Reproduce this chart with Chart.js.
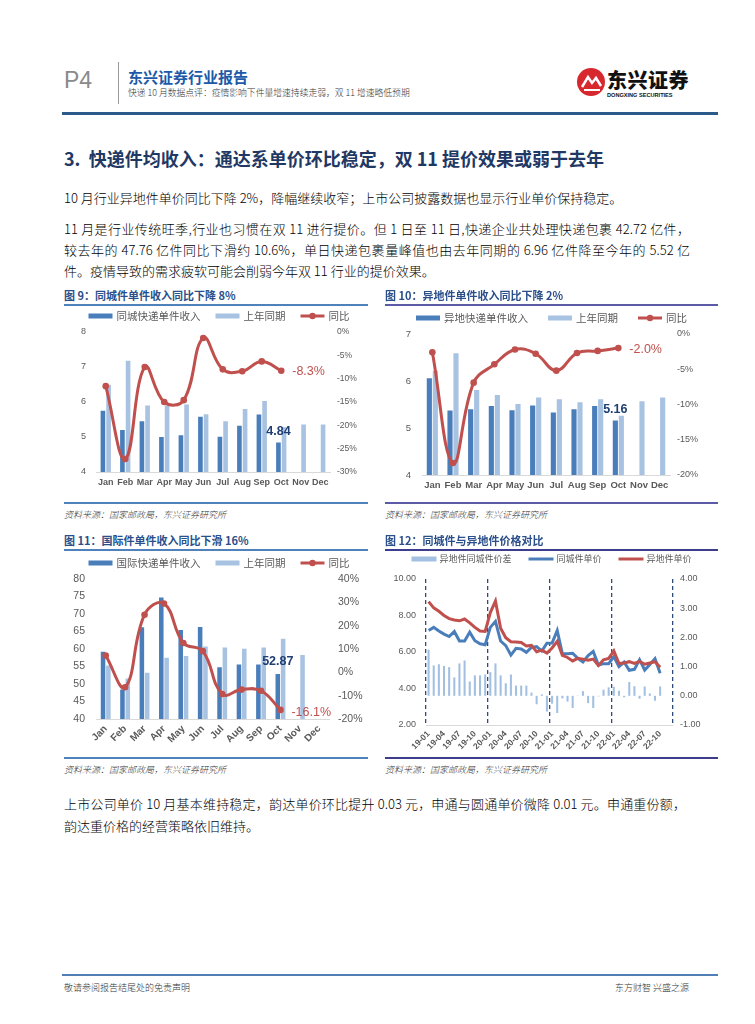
<!DOCTYPE html>
<html><head><meta charset="utf-8">
<script src="https://cdn.jsdelivr.net/npm/chart.js@4/dist/chart.umd.min.js"></script>
<style>
body{margin:0;background:#fff;}
#page{position:relative;width:755px;height:1024px;overflow:hidden;font-family:"Noto Sans CJK SC",sans-serif;color:#111;background:#fff;}
.a{position:absolute;white-space:nowrap;z-index:2;}
.ln{position:absolute;z-index:2;}
canvas{position:absolute;z-index:1;}
.p{font-size:13px;line-height:21px;height:21px;font-weight:300;color:#000;}
.j{width:626px;text-align:justify;text-align-last:justify;}
.ft{font-size:11px;font-weight:bold;color:#2a4f8a;line-height:14px;}
.src{font-size:9px;font-style:italic;color:#333;line-height:12px;font-weight:300;}
</style></head><body><div id="page">

<div class="a" style="left:64px;top:68px;font-family:'Liberation Sans';font-size:23px;line-height:24px;color:#8a8a8a;">P4</div>
<div class="ln" style="left:118px;top:62px;width:1px;height:42px;background:#9a9a9a;"></div>
<div class="a" style="left:128px;top:68px;font-size:15px;line-height:18px;font-weight:bold;color:#1c5aa8;">东兴证券行业报告</div>
<div class="a" style="left:128px;top:87px;font-size:8.8px;line-height:12px;color:#333;font-weight:300;">快递 10 月数据点评：疫情影响下件量增速持续走弱，双 11 增速略低预期</div>
<svg class="ln" style="left:576px;top:66px;" width="32" height="32" viewBox="0 0 32 32"><circle cx="15" cy="16" r="14" fill="#d7282f"/><path d="M6 21 L12 11 L16 17 L20 12 L25 20" stroke="#fff" stroke-width="2.5" fill="none"/><path d="M8 24 L24 24" stroke="#fff" stroke-width="2"/></svg>
<div class="a" style="left:607px;top:68px;font-size:20px;line-height:24px;font-weight:900;color:#111;letter-spacing:0.5px;">东兴证券</div>
<div class="a" style="left:607px;top:91px;font-family:'Liberation Sans';font-size:5.6px;line-height:8px;font-weight:bold;color:#111;">DONGXING SECURITIES</div>
<div class="ln" style="left:62px;top:112px;width:656px;height:3px;background:#2c5a8c;"></div>

<div class="a" style="left:64px;top:146px;font-size:18px;line-height:24px;font-weight:bold;color:#1f3864;">3.&nbsp;&nbsp;快递件均收入：通达系单价环比稳定，双 11 提价效果或弱于去年</div>
<div class="a p" style="left:64px;top:187px;">10 月行业异地件单价同比下降 2%，降幅继续收窄；上市公司披露数据也显示行业单价保持稳定。</div>
<div class="a p j" style="left:64px;top:218px;">11 月是行业传统旺季,行业也习惯在双 11 进行提价。但 1 日至 11 日,快递企业共处理快递包裹 42.72 亿件，</div>
<div class="a p j" style="left:64px;top:239px;">较去年的 47.76 亿件同比下滑约 10.6%，单日快递包裹量峰值也由去年同期的 6.96 亿件降至今年的 5.52 亿</div>
<div class="a p" style="left:64px;top:260px;">件。疫情导致的需求疲软可能会削弱今年双 11 行业的提价效果。</div>

<div class="a ft" style="left:64px;top:288px;">图 9：同城件单件收入同比下降 8%</div>
<div class="ln" style="left:64px;top:304px;width:304px;height:2px;background:#4f81bd;"></div>
<div class="ln" style="left:64px;top:502px;width:304px;height:2px;background:#4f81bd;"></div>
<div class="a src" style="left:64px;top:509px;">资料来源：国家邮政局，东兴证券研究所</div>

<div class="a ft" style="left:385px;top:288px;">图 10：异地件单件收入同比下降 2%</div>
<div class="ln" style="left:385px;top:304px;width:333px;height:2px;background:#5b5ba8;"></div>
<div class="ln" style="left:385px;top:502px;width:333px;height:2px;background:#5b5ba8;"></div>
<div class="a src" style="left:385px;top:509px;">资料来源：国家邮政局，东兴证券研究所</div>

<div class="a ft" style="left:64px;top:533px;">图 11：国际件单件收入同比下滑 16%</div>
<div class="ln" style="left:64px;top:549px;width:304px;height:2px;background:#4f81bd;"></div>
<div class="ln" style="left:64px;top:757px;width:304px;height:2px;background:#4f81bd;"></div>
<div class="a src" style="left:64px;top:764px;">资料来源：国家邮政局，东兴证券研究所</div>

<div class="a ft" style="left:385px;top:533px;">图 12：同城件与异地件价格对比</div>
<div class="ln" style="left:385px;top:549px;width:333px;height:2px;background:#3d3d8f;"></div>
<div class="ln" style="left:385px;top:757px;width:333px;height:2px;background:#3d3d8f;"></div>
<div class="a src" style="left:385px;top:764px;">资料来源：国家邮政局，东兴证券研究所</div>

<div class="a p j" style="left:64px;top:793px;width:622px;">上市公司单价 10 月基本维持稳定，韵达单价环比提升 0.03 元，申通与圆通单价微降 0.01 元。申通重份额，</div>
<div class="a p" style="left:64px;top:815px;">韵达重价格的经营策略依旧维持。</div>

<div class="ln" style="left:62px;top:974px;width:656px;height:2px;background:#4f7fb5;"></div>
<div class="a" style="left:64px;top:982px;font-size:9px;line-height:12px;color:#333;font-weight:300;">敬请参阅报告结尾处的免责声明</div>
<div class="a" style="left:615px;top:982px;font-size:9px;line-height:12px;color:#333;font-weight:300;">东方财智 兴盛之源</div>

<canvas id="c9" width="304" height="195" style="left:64px;top:305px;"></canvas>
<canvas id="c10" width="333" height="195" style="left:385px;top:305px;"></canvas>
<canvas id="c11" width="304" height="206" style="left:64px;top:550px;"></canvas>
<canvas id="c12" width="333" height="206" style="left:385px;top:550px;"></canvas>
</div>
<script>
// ---------- data ----------
const months = ['Jan','Feb','Mar','Apr','May','Jun','Jul','Aug','Sep','Oct','Nov','Dec'];

const cityCur  = [5.75, 5.20, 5.45, 5.00, 5.05, 5.58, 5.01, 5.32, 5.64, 4.84];
const cityPrev = [6.49, 7.18, 5.90, 5.90, 5.93, 5.65, 5.45, 5.80, 6.03, 5.28, 5.36, 5.36];
const cityYoy  = [-11.6, -27.2, -7.5, -15.0, -14.6, -1.3, -8.0, -8.4, -6.3, -8.3];

const interCur  = [6.06, 5.37, 5.40, 5.47, 5.38, 5.48, 5.33, 5.40, 5.47, 5.16];
const interPrev = [6.22, 6.59, 5.81, 5.70, 5.51, 5.65, 5.61, 5.55, 5.61, 5.26, 5.57, 5.65];
const interYoy  = [-2.6, -18.3, -6.9, -4.3, -2.2, -2.8, -5.2, -2.7, -2.4, -2.0];

const intlCur  = [59.2, 48.4, 66.2, 74.7, 65.4, 66.3, 54.8, 55.6, 55.6, 52.87];
const intlPrev = [55.3, 51.6, 53.2, 57.5, 58.0, 60.7, 60.4, 60.1, 60.4, 62.9, 58.3, null];
const intlYoy  = [7.2, -6.4, 24.7, 29.5, 12.6, 9.1, -9.3, -7.4, -7.9, -16.1];

const priceMonths = ['19-01','19-02','19-03','19-04','19-05','19-06','19-07','19-08','19-09','19-10','19-11','19-12',
  '20-01','20-02','20-03','20-04','20-05','20-06','20-07','20-08','20-09','20-10','20-11','20-12',
  '21-01','21-02','21-03','21-04','21-05','21-06','21-07','21-08','21-09','21-10','21-11','21-12',
  '22-01','22-02','22-03','22-04','22-05','22-06','22-07','22-08','22-09','22-10','22-11','22-12'];
const cityPrice = [7.18,7.35,7.15,6.98,6.85,7.12,6.60,6.60,7.09,6.62,6.45,6.40,
  7.35,7.68,6.60,6.35,5.83,6.20,6.17,5.98,6.25,6.30,6.05,6.48,
  6.49,7.18,5.90,5.90,5.93,5.65,5.45,5.80,6.03,5.28,5.36,5.36,
  5.75,5.20,5.45,5.00,5.05,5.58,5.01,5.32,5.64,4.84,null,null];
const interPrice = [8.76,8.42,8.23,8.00,7.83,7.75,7.71,7.81,7.60,7.35,7.15,7.13,
  8.16,8.79,7.30,6.78,6.56,6.55,6.52,6.33,6.36,6.01,6.10,5.94,
  6.22,6.59,5.81,5.70,5.51,5.65,5.61,5.55,5.61,5.26,5.57,5.65,
  6.06,5.37,5.40,5.47,5.38,5.48,5.33,5.40,5.47,5.16,null,null];
const priceGap = [1.58,1.04,1.08,1.02,0.98,0.63,1.11,1.21,0.49,0.70,0.70,0.73,
  0.81,1.11,0.70,0.43,0.73,0.35,0.35,0.35,0.11,-0.29,0.05,-0.54,
  -0.27,-0.59,-0.09,-0.20,-0.42,0.01,0.16,-0.25,-0.42,-0.02,0.21,0.29,
  0.31,0.17,-0.05,0.47,0.33,-0.10,0.32,0.08,-0.17,0.32,null,null];

// ---------- style ----------
const FONT = "'Liberation Sans','Noto Sans CJK SC',sans-serif";
Chart.defaults.font.family = FONT;
Chart.defaults.color = '#595959';
Chart.defaults.animation = false;
const DARK = '#4a7ebb', LIGHT = '#a8c2e2', RED = '#c0504d', NAVY = '#1f3e74', BLUE = '#4a7ebb', GAPC = '#a3c0e2';

const legendPlugin = {
  id: 'mlegend',
  afterDraw(chart, args, o) {
    if (!o || !o.order) return;
    const ctx = chart.ctx;
    ctx.save();
    ctx.font = o.fontSize + "px 'Noto Sans CJK SC'";
    const ds = chart.data.datasets;
    const items = o.order.map(i => ds[i]);
    const widths = items.map(d => o.sw + o.tg + ctx.measureText(d.label).width);
    const total = widths.reduce((a, b) => a + b, 0) + o.gap * (items.length - 1);
    let x = (chart.width - total) / 2 + (o.shift || 0);
    const y = o.y;
    items.forEach((d, i) => {
      if ((d.type || 'bar') === 'bar') {
        ctx.fillStyle = d.backgroundColor;
        ctx.fillRect(x, y - o.bh / 2, o.sw, o.bh);
      } else {
        ctx.strokeStyle = d.borderColor; ctx.lineWidth = o.lw;
        ctx.beginPath(); ctx.moveTo(x, y); ctx.lineTo(x + o.sw, y); ctx.stroke();
        if (d.pointRadius) { ctx.fillStyle = d.borderColor; ctx.beginPath(); ctx.arc(x + o.sw / 2, y, 3.2, 0, Math.PI * 2); ctx.fill(); }
      }
      ctx.fillStyle = '#595959'; ctx.textBaseline = 'middle'; ctx.textAlign = 'left';
      ctx.fillText(d.label, x + o.sw + o.tg, y);
      x += widths[i] + o.gap;
    });
    ctx.restore();
  }
};
const labelPlugin = {
  id: 'vlabels',
  afterDatasetsDraw(chart, args, o) {
    if (!o || !o.items) return;
    const ctx = chart.ctx;
    ctx.save();
    o.items.forEach(l => {
      const el = chart.getDatasetMeta(l.ds).data[l.index];
      const v = chart.data.datasets[l.ds].data[l.index];
      ctx.font = (l.bold ? 'bold ' : '') + l.size + 'px ' + FONT;
      ctx.fillStyle = l.color; ctx.textAlign = l.align; ctx.textBaseline = 'middle';
      ctx.fillText(l.fmt(v), el.x + l.dx, el.y + l.dy);
    });
    ctx.restore();
  }
};
Chart.register(legendPlugin, labelPlugin);

function barLine(id, c) {
  return new Chart(document.getElementById(id), {
    type: 'bar',
    data: {
      labels: months,
      datasets: [
        {type: 'line', label: '同比', data: c.yoy, yAxisID: 'y1', borderColor: RED, backgroundColor: RED,
         borderWidth: 3, pointRadius: 3.3, pointBackgroundColor: RED, pointBorderWidth: 0, tension: 0.42, order: 0},
        {label: c.name, data: c.cur, backgroundColor: DARK, yAxisID: 'y', order: 1, barPercentage: c.bp, categoryPercentage: c.cp},
        {label: '上年同期', data: c.prev, backgroundColor: LIGHT, yAxisID: 'y', order: 2, barPercentage: c.bp, categoryPercentage: c.cp}
      ]
    },
    options: {
      responsive: false, animation: false,
      layout: {padding: {top: c.padTop, left: 0, right: 0, bottom: 0}},
      plugins: {
        legend: {display: false}, tooltip: {enabled: false},
        mlegend: {order: [1, 2, 0], fontSize: 10.5, sw: 24, tg: 4, gap: c.lgap, bh: 5, lw: 3, y: c.ly, shift: c.lshift},
        vlabels: {items: [
          {ds: 1, index: 9, dx: 0, dy: c.bdy, color: NAVY, size: 12.5, bold: true, align: 'center', fmt: v => v.toFixed(2)},
          {ds: 0, index: 9, dx: 11, dy: c.ldy, color: RED, size: 12.5, bold: false, align: 'left', fmt: v => v.toFixed(1) + '%'}
        ]}
      },
      scales: {
        x: {offset: true, grid: {display: false, drawTicks: false, offset: true}, border: {color: '#d9d9d9'},
            ticks: {font: {size: c.xf, weight: 'bold'}, padding: c.xpad, autoSkip: false, minRotation: c.rot, maxRotation: c.rot},
            afterFit: s => { s.height = c.xH; }},
        y: {position: 'left', min: c.lmin, max: c.lmax, grid: {display: false, drawTicks: false}, border: {display: false},
            ticks: {stepSize: c.lstep, padding: c.lpad, font: {size: c.yf}}, afterFit: s => { s.width = c.lw; }},
        y1: {position: 'right', min: c.rmin, max: c.rmax, grid: {display: false, drawTicks: false}, border: {display: false},
            ticks: {stepSize: c.rstep, padding: c.rpad, font: {size: c.rf}, callback: v => v + '%'}, afterFit: s => { s.width = c.rw; }}
      }
    }
  });
}

barLine('c9', {name: '同城快递单件收入', cur: cityCur, prev: cityPrev, yoy: cityYoy, bp: 0.82, cp: 0.58,
  padTop: 27, ly: 11, lgap: 15, lshift: 3, bdy: -11, ldy: 1, xf: 9, xpad: 5, rot: 0, xH: 28,
  lmin: 4, lmax: 8, lstep: 1, lpad: 10, yf: 9, lw: 32, rmin: -30, rmax: 0, rstep: 5, rpad: 7, rf: 8.5, rw: 38});

barLine('c10', {name: '异地快递单件收入', cur: interCur, prev: interPrev, yoy: interYoy, bp: 0.86, cp: 0.58,
  padTop: 29, ly: 13, lgap: 20, lshift: 0, bdy: -11, ldy: 1, xf: 9.5, xpad: 5, rot: 0, xH: 25,
  lmin: 4, lmax: 7, lstep: 1, lpad: 11, yf: 9.5, lw: 37, rmin: -20, rmax: 0, rstep: 5, rpad: 7, rf: 9, rw: 48});

barLine('c11', {name: '国际快递单件收入', cur: intlCur, prev: intlPrev, yoy: intlYoy, bp: 0.85, cp: 0.55,
  padTop: 29, ly: 13, lgap: 15, lshift: 3, bdy: -12, ldy: 3, xf: 10, xpad: 4, rot: 45, xH: 37,
  lmin: 40, lmax: 80, lstep: 5, lpad: 11, yf: 10.5, lw: 32, rmin: -20, rmax: 40, rstep: 10, rpad: 9, rf: 10.5, rw: 39});

new Chart(document.getElementById('c12'), {
  type: 'bar',
  data: {
    labels: priceMonths,
    datasets: [
      {label: '异地件同城件价差', data: priceGap, backgroundColor: GAPC, yAxisID: 'y1', order: 2, barPercentage: 0.4, categoryPercentage: 1.0},
      {type: 'line', label: '同城件单价', data: cityPrice, borderColor: BLUE, backgroundColor: BLUE, borderWidth: 3, pointRadius: 0, tension: 0, yAxisID: 'y', order: 1},
      {type: 'line', label: '异地件单价', data: interPrice, borderColor: RED, backgroundColor: RED, borderWidth: 3, pointRadius: 0, tension: 0, yAxisID: 'y', order: 0}
    ]
  },
  options: {
    responsive: false, animation: false,
    layout: {padding: {top: 29, left: 0, right: 0, bottom: 0}},
    plugins: {
      legend: {display: false}, tooltip: {enabled: false},
      mlegend: {order: [0, 1, 2], fontSize: 9, sw: 25, tg: 3, gap: 17, bh: 5, lw: 3, y: 9, shift: 0}
    },
    scales: {
      x: {offset: true,
          grid: {display: true, drawTicks: false, offset: true, lineWidth: 1.3,
                 color: ctx => (ctx.index === undefined || ctx.index % 12 === 0) ? '#2f4b7c' : 'rgba(0,0,0,0)'},
          border: {color: '#d9d9d9', dash: [4, 3]},
          ticks: {font: {size: 8.5, weight: 'bold'}, padding: 4, autoSkip: false, minRotation: 45, maxRotation: 45,
                  callback: (v, i) => (i % 3 === 0 && i <= 45) ? priceMonths[i] : ''},
          afterFit: s => { s.height = 31; }},
      y: {position: 'left', min: 2, max: 10, grid: {display: false, drawTicks: false}, border: {display: false},
          ticks: {stepSize: 2, padding: 10, font: {size: 9}, callback: v => v.toFixed(2)}, afterFit: s => { s.width = 41; }},
      y1: {position: 'right', min: -1, max: 4, grid: {display: false, drawTicks: false}, border: {display: false},
          ticks: {stepSize: 1, padding: 7, font: {size: 9}, callback: v => v.toFixed(2)}, afterFit: s => { s.width = 45; }}
    }
  }
});
</script>
</body></html>
